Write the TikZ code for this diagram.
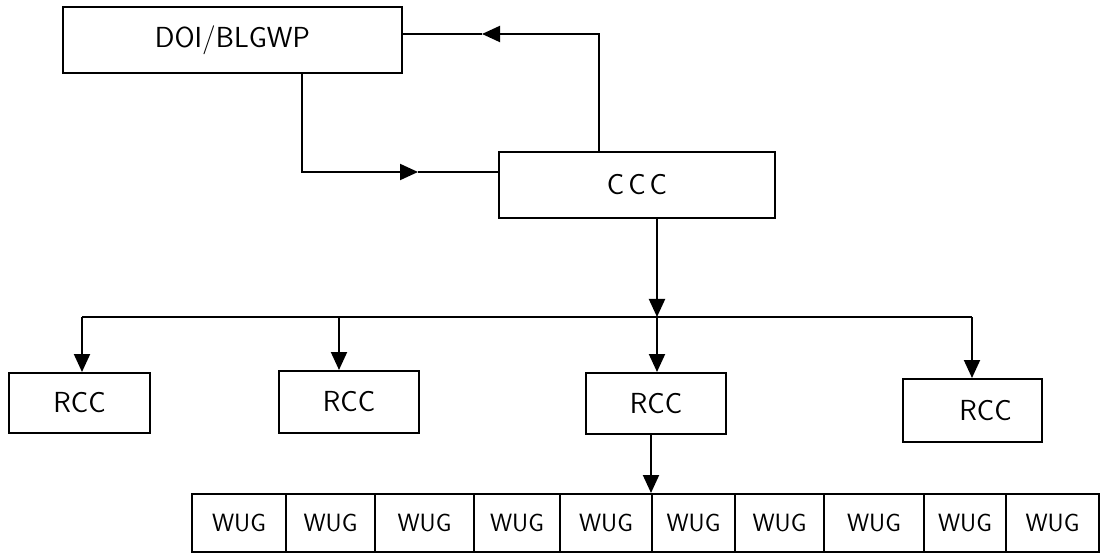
\documentclass[tikz,border=0pt]{standalone}
\usepackage{tikz}
\usetikzlibrary{arrows.meta}

\tikzset{
  unit/.style={draw, line width=2pt, inner sep=0pt, font=\fontsize{29}{31}\selectfont\sffamily},
  cell/.style={unit, font=\fontsize{25}{27}\selectfont\sffamily},
  link/.style={line width=2pt},
  tip/.style={line width=2pt, -{Triangle[length=18pt,width=16pt]}}
}

\begin{document}
\begin{tikzpicture}[x=1pt,y=-1pt]
        \useasboundingbox (0,0) rectangle (1100,553);

        %top boxes
        \node[unit, minimum width=339pt, minimum height=66pt] (doi) at (232.5,40) {DOI/BLGWP};
        \node[unit, minimum width=276pt, minimum height=66pt] (ccc) at (637,185) {C\hspace{4pt}C\hspace{4pt}C};

        %loop between them
        \coordinate (ret) at (599,152);
        \coordinate (rettip) at (482,34);
        \coordinate (doiR) at (402,34);
        \coordinate (doiB) at (302,73);
        \coordinate (fwdtip) at (418,172);
        \coordinate (cccL) at (499,172);
        \draw[tip] (ret) |- (rettip);
        \draw[link] (rettip) -- (doiR);
        \draw[tip] (doiB) |- (fwdtip);
        \draw[link] (fwdtip) -- (cccL);

        %bus
        \coordinate (hub) at (657,317);
        \coordinate (busL) at (82,317);
        \coordinate (busR) at (972,317);
        \draw[tip] (ccc.south -| hub) -- (hub);
        \draw[link] (busL) -- (busR);

        %rcc row
        \node[unit, minimum width=141pt, minimum height=60pt] (r1) at (79.5,403) {RCC};
        \node[unit, minimum width=140pt, minimum height=62pt] (r2) at (349,402) {RCC};
        \node[unit, minimum width=140pt, minimum height=61pt] (r3) at (656,403.5) {RCC};
        \node[unit, minimum width=139pt, minimum height=63pt] (r4) at (972.5,410.5) {\hspace{26pt}RCC};
        \foreach \x/\n in {82/r1,339/r2,657/r3,972/r4}
            \draw[tip] (\x,317) -- (\n.north -| \x,0);

        %wug row
        \foreach \l/\r [count=\i] in {192/286,286/375,375/474,474/560,560/652,652/735,735/824,824/924,924/1006,1006/1099}
            \node[cell, minimum width={\r-\l}, minimum height=58pt] (w\i) at ({(\l+\r)/2},523) {WUG};
        \draw[tip] (r3.south -| w6.north west) -- (w6.north west);
    \end{tikzpicture}
\end{document}
